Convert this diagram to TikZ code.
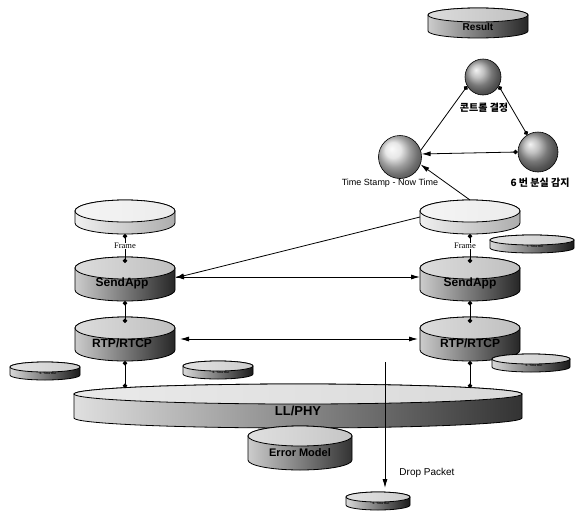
\documentclass[tikz,border=0pt]{standalone}
\usepackage{fontspec}
\setmainfont{Liberation Sans}
\newfontfamily\krfont{Noto Sans CJK KR}
\newfontfamily\serfont{Liberation Serif}
\usetikzlibrary{arrows.meta}

% #1 cx, #2 cy (top ellipse centre), #3 rx, #4 ry, #5 body height, #6 left colour, #7 right colour, #8 top colour, #9 node name
\newcommand\mycyl[9]{%
  \colorlet{cylL}{#6}\colorlet{cylR}{#7}\colorlet{cylT}{#8}%
  \shade[left color=cylL, middle color=cylL!65!cylR, right color=cylR, draw=black, line width=0.8pt]
    (#1-#3,#2) -- ++(0,-#5)
    arc[start angle=180,end angle=360,x radius=#3pt,y radius=#4pt]
    -- ++(0,#5)
    arc[start angle=0,end angle=180,x radius=#3pt,y radius=#4pt] -- cycle;
  \shade[left color=white!45!cylT, right color=cylT, draw=black, line width=0.8pt] (#1,#2) ellipse[x radius=#3pt, y radius=#4pt];
  \node[hit, minimum width={2*#3pt}, minimum height={2*#4pt+#5pt}] (#9) at (#1,#2-#5/2) {};
}

\tikzset{
  hit/.style={inner sep=0pt, outer sep=0pt, draw=none, fill=none, shape=rectangle},
  cyltxt/.style={font=\fontsize{12}{14}\selectfont\bfseries, inner sep=1pt},
  tinytxt/.style={font=\fontsize{3}{3.5}\selectfont\bfseries, text=black, inner sep=0pt},
  plaintxt/.style={font=\fontsize{9}{11}\selectfont, inner sep=1pt},
  krtxt/.style={font=\krfont\bfseries\fontsize{10}{12}\selectfont, inner sep=1pt},
  frametxt/.style={font=\serfont\fontsize{8.5}{9}\selectfont, fill=white, inner sep=0.6pt},
  conn/.style={line width=0.8pt},
  arr/.style={conn, -{Latex[length=9pt,width=5pt]}},
  darr/.style={conn, {Latex[length=9pt,width=5pt]}-{Latex[length=9pt,width=5pt]}},
  dd/.style={conn, {Circle[length=4.5pt]}-{Circle[length=4.5pt]}},
  ball/.style={draw=black, line width=0.6pt, circle, minimum size=#1, inner sep=0pt},
}

\begin{document}
\begin{tikzpicture}[x=1pt,y=1pt]
\useasboundingbox (0,0) rectangle (580,-514);

% ---------- Result ----------
\mycyl{478}{-15}{50}{7}{16}{gray!40}{black!85}{gray!50}{result}
\node[cyltxt, font=\fontsize{10}{12}\selectfont\bfseries] (resultt) at (478,-27) {Result};

% ---------- circles ----------
\node[ball=36pt, ball color=gray!65] (c1) at (483,-77) {};
\node[ball=43pt, ball color=gray!25] (c2) at (400,-157) {};
\node[ball=40pt, ball color=gray!65] (c3) at (538,-152) {};
\node[krtxt] (c1t) at (484,-108) {콘트롤 결정};
\node[plaintxt] (c2t) at (390,-183) {Time Stamp - Now Time};
\node[krtxt] (c3t) at (540,-183) {6 번 분실 감지};

% ---------- left stack ----------
\mycyl{125}{-211}{50}{11}{12}{gray!12}{gray!65}{gray!15}{diskL}
\mycyl{125}{-268}{50}{11}{22}{gray!40}{black!85}{gray!50}{sendL}
\mycyl{125}{-328}{50}{11}{22}{gray!40}{black!85}{gray!50}{rtpL}

% ---------- right stack ----------
\mycyl{470}{-211}{50}{11}{12}{gray!12}{gray!65}{gray!15}{diskR}
\mycyl{470}{-268}{50}{11}{22}{gray!40}{black!85}{gray!50}{sendR}
\mycyl{470}{-328}{50}{11}{22}{gray!40}{black!85}{gray!50}{rtpR}

% ---------- small disks ----------
\mycyl{532}{-240}{42}{5}{8}{gray!30}{black!90}{gray!40}{sd4}
\mycyl{45}{-367}{35}{5}{8}{gray!30}{black!90}{gray!40}{sd1}
\mycyl{218}{-366}{35}{5}{8}{gray!30}{black!90}{gray!40}{sd2}
\mycyl{531}{-359}{39}{5}{8}{gray!30}{black!90}{gray!40}{sd3}
\mycyl{378}{-497}{32}{5}{8}{gray!30}{black!90}{gray!40}{sd5}
\node[tinytxt] (sd4t) at (535,-246) {7. Time Out};
\node[tinytxt] (sd1t) at (48,-373) {6. Time Out};
\node[tinytxt] (sd2t) at (221,-372) {6. Time Out};
\node[tinytxt] (sd3t) at (534,-365) {6. Time Out};
\node[tinytxt] (sd5t) at (381,-503) {6. Time Out};

% ---------- LL/PHY and Error Model ----------
\mycyl{298}{-394}{224}{10}{24}{gray!25}{black!80}{gray!30}{llphy}
\mycyl{300}{-436}{52}{10}{24}{gray!40}{black!80}{gray!45}{errm}

% ---------- cylinder labels ----------
\node[cyltxt] (sendLt) at (122,-283) {SendApp};
\node[cyltxt] (rtpLt) at (122,-343) {RTP/RTCP};
\node[cyltxt] (sendRt) at (470,-283) {SendApp};
\node[cyltxt] (rtpRt) at (470,-343) {RTP/RTCP};
\node[cyltxt, font=\fontsize{13}{15}\selectfont\bfseries] (llphyt) at (298,-411) {LL/PHY};
\node[cyltxt, font=\fontsize{11}{13}\selectfont\bfseries] (errmt) at (300,-453) {Error Model};

% ---------- stack connectors ----------
\coordinate (llL) at (125,-388);
\coordinate (llR) at (470,-388);
\draw[dd] (diskL.south) -- ([yshift=-6pt]sendL.north);
\draw[dd] (sendL.south) -- ([yshift=-6pt]rtpL.north);
\draw[dd] (rtpL.south) -- (llL);
\draw[dd] (diskR.south) -- ([yshift=-6pt]sendR.north);
\draw[dd] (sendR.south) -- ([yshift=-6pt]rtpR.north);
\draw[dd] (rtpR.south) -- (llR);
\node[frametxt] (frL) at (125,-246) {Frame};
\node[frametxt] (frR) at (465,-246) {Frame};

% ---------- horizontal arrows ----------
\draw[darr] ([yshift=2pt]sendL.east) -- ([yshift=2pt]sendR.west);
\draw[arr] (diskR.west) -- ([yshift=1pt]sendL.east);
\draw[darr, shorten <=5pt, shorten >=2pt] (rtpL.east) -- (rtpR.west);

% ---------- triangle ----------
\draw[arr] (diskR.north) -- (c2.-20);
\draw[conn, {Circle[length=4.5pt]}-] (c1.210) -- (c2.18);
\draw[dd] (c1.330) -- (c3.122);
\draw[conn, {Circle[length=4.5pt]}-{Latex[length=9pt,width=5pt]}] (c3.west) -- (c2.8);

% ---------- drop packet ----------
\coordinate (dropS) at (385,-362);
\draw[arr, shorten >=4pt] (dropS) -- (dropS |- sd5.north);
\node[plaintxt, font=\fontsize{10}{12}\selectfont] (dropt) at (427,-473) {Drop Packet};
\end{tikzpicture}
\end{document}
